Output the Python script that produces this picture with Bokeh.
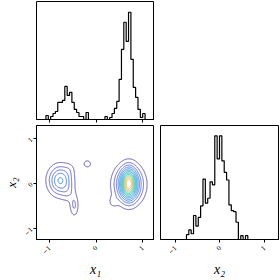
import numpy as np
from bokeh.plotting import figure
from bokeh.layouts import column, row
from bokeh.models import FixedTicker, Range1d
from bokeh.embed import file_html
from bokeh.resources import INLINE

# ---- data ----
x1_lim = [-1.279, 1.251]        # shared x1 range
x2_lim = [-1.256, 1.284]        # x2 range in the 2D panel
x2_hist_lim = [-1.337, 1.315]   # x2 range in the x2 histogram
tick_vals = [-1, 0, 1]

# histogram counts (50 bins each)
x1_counts = [0, 0, 0, 0, 4, 0, 3, 6, 8, 17,
             17, 19, 33, 24, 27, 17, 10, 7, 3, 3,
             0, 7, 0, 0, 0, 0, 0, 0, 0, 3,
             0, 2, 6, 11, 18, 40, 70, 97, 78, 107,
             60, 32, 22, 10, 2, 6, 0, 0, 0, 0]
x2_counts = [0, 0, 0, 0, 0, 0, 0, 0, 0, 0,
             0, 5, 10, 6, 25, 14, 23, 35, 63, 38,
             43, 60, 57, 108, 84, 108, 82, 70, 62, 36,
             30, 29, 18, 0, 4, 0, 4, 0, 0, 0,
             0, 0, 0, 0, 0, 0, 0, 0, 0, 0]

# 2D density: Gaussian components (centre, widths, amplitude)
comp_mx = [0.70, 0.70, 0.36, -0.77, -0.60, -0.47, -0.56, -0.19]
comp_my = [-0.01, -0.03, -0.42, 0.06, -0.22, -0.50, 0.32, 0.43]
comp_sx = [0.10, 0.20, 0.07, 0.17, 0.09, 0.065, 0.08, 0.09]
comp_sy = [0.22, 0.27, 0.09, 0.22, 0.14, 0.17, 0.10, 0.09]
comp_amp = [6.5, 6.8, 1.0, 5.2, 1.0, 2.1, 0.6, 1.3]
levels = [1, 2, 3, 4, 5, 6, 7, 8, 9, 10, 11, 12]
level_colors = ["#54469f", "#5050c0", "#4660d8", "#3a70e0", "#2e84e0", "#2298d8",
                "#18aacb", "#1fb6b6", "#40bf9c", "#7cc17c", "#c2bb5c", "#f2a63a"]

# ---- build ----
serif = "DejaVu Serif"
label_font = "Liberation Serif"

def style_axis(ax, standoff, label_standoff, font_px="14px", show_labels=True):
    ax.ticker = FixedTicker(ticks=tick_vals)
    ax.major_tick_in = 0
    ax.major_tick_out = 3
    ax.minor_tick_in = 0
    ax.minor_tick_out = 0
    ax.axis_line_color = "black"
    ax.major_tick_line_color = "black"
    ax.major_label_text_font = serif
    ax.major_label_text_color = "black"
    ax.major_label_orientation = np.pi / 4
    ax.major_label_standoff = standoff
    ax.major_label_text_font_size = "6px"
    if not show_labels:
        ax.major_label_overrides = {-1: "", 0: "", 1: ""}
        ax.major_label_standoff = 0
    ax.axis_label_text_font = label_font
    ax.axis_label_text_font_style = "italic"
    ax.axis_label_text_font_size = font_px
    ax.axis_label_text_color = "black"
    ax.axis_label_standoff = label_standoff

def base(width, height, xr, yr, **borders):
    p = figure(width=width, height=height, x_range=xr, y_range=yr,
               toolbar_location=None, output_backend="svg", **borders)
    p.grid.visible = False
    p.outline_line_color = "black"
    p.outline_line_alpha = 1.0
    p.outline_line_width = 1
    p.background_fill_color = "white"
    p.border_fill_color = "white"
    return p

x1_range = Range1d(*x1_lim)

# top-left: x1 histogram
p1 = base(154, 124, x1_range, Range1d(0, 1.1 * max(x1_counts)),
          min_border_left=36, min_border_right=0, min_border_top=1, min_border_bottom=5)
p1.yaxis.visible = False
style_axis(p1.xaxis[0], 0, 0, show_labels=False)
x1_edges = np.linspace(x1_lim[0], x1_lim[1], len(x1_counts) + 1)
p1.step(x=x1_edges, y=np.append(x1_counts, 0), mode="after",
        line_color="black", line_width=1.2)

# bottom-left: 2D contours
p2 = base(154, 156, x1_range, Range1d(*x2_lim),
          min_border_left=36, min_border_right=0, min_border_top=0, min_border_bottom=38)
style_axis(p2.xaxis[0], 4, 3)
style_axis(p2.yaxis[0], 2, 0, font_px="13px")
p2.xaxis.axis_label = "x\u2081"
p2.yaxis.axis_label = "x\u2082"
gx = np.linspace(x1_lim[0], x1_lim[1], 300)
gy = np.linspace(x2_lim[0], x2_lim[1], 300)
GX, GY = np.meshgrid(gx, gy)
Z = np.zeros_like(GX)
for mx, my, sx, sy, a in zip(comp_mx, comp_my, comp_sx, comp_sy, comp_amp):
    Z += a * np.exp(-((GX - mx) ** 2 / (2 * sx ** 2) + (GY - my) ** 2 / (2 * sy ** 2)))
p2.contour(x=gx, y=gy, z=Z, levels=levels, line_color=level_colors, line_width=0.9)

# bottom-right: x2 histogram
p3 = base(126, 156, Range1d(*x2_hist_lim), Range1d(0, 1.1 * max(x2_counts)),
          min_border_left=6, min_border_right=2, min_border_top=1, min_border_bottom=38)
p3.yaxis.visible = False
style_axis(p3.xaxis[0], 4, 3)
p3.xaxis.axis_label = "x\u2082"
x2_edges = np.linspace(x2_hist_lim[0], x2_hist_lim[1], len(x2_counts) + 1)
p3.step(x=x2_edges, y=np.append(x2_counts, 0), mode="after",
        line_color="black", line_width=1.2)

layout = column(p1, row(p2, p3, spacing=0), spacing=0)
open("out.html", "w").write(file_html(layout, INLINE))
